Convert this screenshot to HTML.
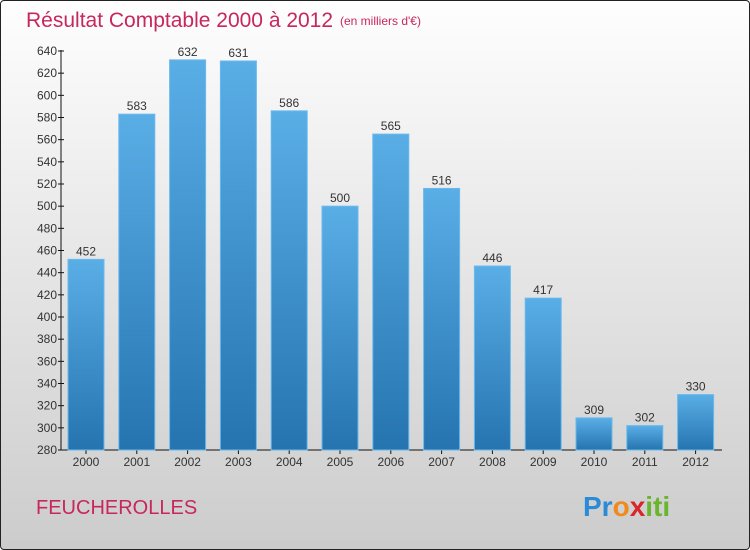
<!DOCTYPE html>
<html><head><meta charset="utf-8"><style>
body{margin:0;width:750px;height:550px;overflow:hidden;font-family:"Liberation Sans",sans-serif}
#wrap{position:absolute;left:0;top:0;width:748px;height:548px;border:1px solid #222;border-radius:4px;background:linear-gradient(#fefefe,#cccccc)}
</style></head><body>
<div id="wrap">
<svg id="chart" width="750" height="550" style="position:absolute;left:-1px;top:-1px">
<defs><linearGradient id="bg" x1="0" x2="0" y1="0" y2="1"><stop offset="0" stop-color="#5aaee6"/><stop offset="1" stop-color="#2574b0"/></linearGradient></defs>
<text x="26" y="27" font-size="21" fill="#c8265e">Résultat Comptable 2000 à 2012</text>
<text x="340" y="25" font-size="12" fill="#c8265e">(en milliers d'€)</text>
<text x="36" y="514" font-size="20" fill="#c8265e">FEUCHEROLLES</text>
<text x="583" y="516" font-size="28" font-weight="bold"><tspan fill="#2d8ad6">Pr</tspan><tspan fill="#f08a1c">o</tspan><tspan fill="#d8262c">x</tspan><tspan fill="#6ab52e">iti</tspan></text>
<g id="axes"></g><g id="bars"></g>
</svg></div>
<script>
const years=["2000","2001","2002","2003","2004","2005","2006","2007","2008","2009","2010","2011","2012"];
const values=[452,583,632,631,586,500,565,516,446,417,309,302,330];
const yTicks=[280,300,320,340,360,380,400,420,440,460,480,500,520,540,560,580,600,620,640];
const NS="http://www.w3.org/2000/svg";
function y(v){return 450-(v-280)*(399/360);}
function xc(i){return 86+i*50.8;}
function mk(t,a,p){const e=document.createElementNS(NS,t);for(const k in a)e.setAttribute(k,a[k]);p.appendChild(e);return e;}
const ax=document.getElementById('axes'),bs=document.getElementById('bars');
const yl=mk('line',{x1:61,x2:61,y1:50,y2:450,stroke:'#111'},ax);


const xl=mk('line',{x1:61,x2:722,y1:450,y2:450,stroke:'#111'},ax);


yTicks.forEach(v=>{mk('line',{x1:58,x2:64,y1:y(v),y2:y(v),stroke:'#111'},ax);
const t=mk('text',{x:57,y:y(v)+4,'text-anchor':'end','font-size':12,fill:'#333'},ax);t.textContent=v;

});
years.forEach((yr,i)=>{const c=xc(i);
mk('line',{x1:c,x2:c,y1:450,y2:454,stroke:'#111'},ax);
const t=mk('text',{x:c,y:466,'text-anchor':'middle','font-size':12,fill:'#333'},ax);t.textContent=yr;


const r=mk('rect',{x:c-18,y:y(values[i]),width:36,height:450-y(values[i]),fill:'url(#bg)',stroke:'#6ab9ee','stroke-width':1},bs);


const l=mk('text',{x:c,y:y(values[i])-4,'text-anchor':'middle','font-size':12,fill:'#333'},bs);l.textContent=values[i];

});
</script></body></html>
